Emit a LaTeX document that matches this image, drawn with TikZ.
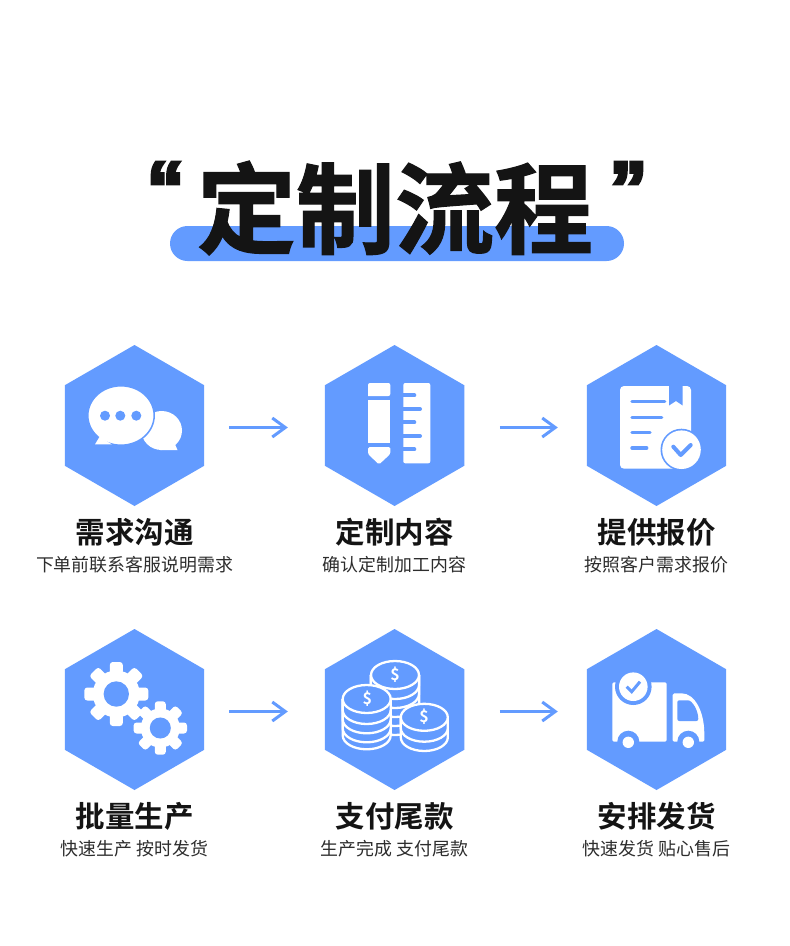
\documentclass[tikz,border=0pt]{standalone}
\usepackage{fontspec}
\setmainfont{Noto Sans CJK SC}
\newfontfamily\cjkheavy[FakeBold=1.2]{Noto Sans CJK SC Bold}
\newfontfamily\cjkbold{Noto Sans CJK SC Bold}
\newfontfamily\quotefont[FakeBold=5]{Liberation Sans Bold}
\usetikzlibrary{arrows.meta, positioning, shapes.geometric, shapes.misc}
\definecolor{hexblue}{RGB}{99,155,255}
\definecolor{inkdark}{RGB}{20,20,20}
\definecolor{inkgrey}{RGB}{45,45,45}
\newcommand{\gearicon}[5]{%
  \foreach \a in {0,45,...,315}
    \fill[white, rounded corners=3pt, shift={(#1,#2)}, rotate=\a] (#4-4,-#5) rectangle (#3,#5);
  \fill[white] (#1,#2) circle[radius=#4];
  \fill[hexblue] (#1,#2) circle[radius=#4*0.54];
}
\begin{document}
\begin{tikzpicture}[
    x=1pt, y=-1pt,
    hexa/.style={regular polygon, regular polygon sides=6, shape border rotate=30, fill=hexblue, minimum size=161pt, inner sep=0pt, outer sep=0pt},
    step title/.style={font=\cjkbold\fontsize{29.5}{30}\selectfont, text=inkdark, inner sep=0pt, text height=24pt, text depth=6pt},
    step note/.style={font=\fontsize{17.9}{18}\selectfont, text=inkgrey, inner sep=0pt, text height=13pt, text depth=3pt},
    arrow/.style={-{Straight Barb[length=13pt, width=19pt, line width=3pt]}, line width=3pt, hexblue, shorten <=25pt, shorten >=37pt},
    arrow wide/.style={arrow, shorten <=35.7pt, shorten >=29pt},
    quotemark/.style={font=\quotefont\fontsize{74}{74}\selectfont, text=inkdark, inner sep=0pt},
    coinline/.style={draw=white, line width=2.3pt},
    dollar/.style={font=\cjkbold\fontsize{16}{16}\selectfont, text=white, inner sep=0pt},
    blueline/.style={hexblue, line width=3.4pt, line cap=round}
]
\useasboundingbox (0,0) rectangle (790,946);
\fill[white] (0,0) rectangle (790,946);

\node[rounded rectangle, fill=hexblue, minimum width=454pt, minimum height=35pt, inner sep=0pt] (pill) at (397,243.5) {};
\node[font=\cjkheavy\fontsize{99}{99}\selectfont, text=inkdark, inner sep=0pt] (heading) at (395,208) {定制流程};
\node[quotemark] (quoteopen) at (165.5,188) {“};
\node[quotemark] (quoteclose) at (628.5,188) {”};

\node[hexa] (talk) at (134.5,425.5) {};
\node[hexa, right=120.6pt of talk] (content) {};
\node[hexa, right=122.5pt of content] (quote) {};
\node[hexa, below=123pt of talk] (batch) {};
\node[hexa, right=120.6pt of batch] (payment) {};
\node[hexa, right=122.5pt of payment] (delivery) {};

\node[step title, below=13pt of talk] (talktitle) {需求沟通};
\node[step note, below=9pt of talktitle] (talknote) {下单前联系客服说明需求};
\node[step title, below=13pt of content] (contenttitle) {定制内容};
\node[step note, below=9pt of contenttitle] (contentnote) {确认定制加工内容};
\node[step title, below=13pt of quote] (quotetitle) {提供报价};
\node[step note, below=9pt of quotetitle] (quotenote) {按照客户需求报价};
\node[step title, below=13pt of batch] (batchtitle) {批量生产};
\node[step note, below=9pt of batchtitle] (batchnote) {快速生产 按时发货};
\node[step title, below=13pt of payment] (paymenttitle) {支付尾款};
\node[step note, below=9pt of paymenttitle] (paymentnote) {生产完成 支付尾款};
\node[step title, below=13pt of delivery] (deliverytitle) {安排发货};
\node[step note, below=9pt of deliverytitle] (deliverynote) {快速发货 贴心售后};

\draw[arrow] ([yshift=-2pt]talk.east) -- ([yshift=-2pt]content.west);
\draw[arrow wide] ([yshift=-2pt]content.east) -- ([yshift=-2pt]quote.west);
\draw[arrow] ([yshift=-2pt]batch.east) -- ([yshift=-2pt]payment.west);
\draw[arrow wide] ([yshift=-2pt]payment.east) -- ([yshift=-2pt]delivery.west);

% chat bubbles
\fill[white] (161.7,430.5) ellipse[x radius=20.3, y radius=19.5];
\fill[white] (168,445) -- (174,442) -- (177.5,450) -- (160,450) -- cycle;
\fill[white, draw=hexblue, line width=1.5pt] (121,415.5) ellipse[x radius=33.2, y radius=29.7];
\fill[white] (100,436) -- (108,442) -- (112,444.4) -- (95,444.4) -- cycle;
\foreach \x in {105,120.3,136.3}
  \fill[hexblue] (\x,415.7) circle[radius=5];

% pencil and ruler
\fill[white, rounded corners=2pt] (368,396) -- (368,383) -- (390.3,383) -- (390.3,396) [sharp corners] -- cycle;
\fill[white] (368,400) rectangle (390.3,443);
\fill[white, rounded corners=1.5pt] (368,447) -- (390.3,447) -- (390.3,454) -- (379,464.5) -- (368,454) -- cycle;
\fill[white, rounded corners=2pt] (403.3,383) rectangle (430.3,463.3);
\foreach \y/\e in {395.3/414.3, 409/420, 422.3/414.3, 436/420, 449.3/414.3}
  \draw[hexblue, line width=4pt, line cap=round] (402,\y) -- (\e,\y);

% document with check
\fill[white, rounded corners=4pt] (620,386) rectangle (691,468.7);
\fill[hexblue] (669,385) -- (682.7,385) -- (682.7,405.5) -- (676,401) -- (669,405.5) -- cycle;
\foreach \y/\e in {401.7/664.7, 417.3/661.7, 432.7/650, 448/646.7}
  \draw[blueline] (632,\y) -- (\e,\y);
\fill[hexblue] (681.5,449.7) circle[radius=21];
\fill[white] (681.5,449.7) circle[radius=19.3];
\draw[blueline, line width=4pt, line join=round] (673.3,446.7) -- (680.7,455) -- (690.7,445);

% gears
\gearicon{116.3}{694}{32}{23.5}{6.5}
\gearicon{160.3}{728}{26.7}{19.5}{5.5}

% coins
\foreach \y in {721,712,703,694,685}
  \draw[coinline, fill=hexblue] (371,675) -- (371,\y) arc[start angle=180, end angle=0, x radius=24, y radius=14] -- (419,675);
\draw[coinline, fill=hexblue] (395,675) ellipse[x radius=24, y radius=14];
\foreach \y in {735.3,728.3,719.3,710}
  \draw[coinline, fill=hexblue] (342.7,699) -- (342.7,\y) arc[start angle=180, end angle=0, x radius=24, y radius=14] -- (390.7,699);
\draw[coinline, fill=hexblue] (366.7,699) ellipse[x radius=24, y radius=14];
\foreach \y in {737.5,728.2}
  \draw[coinline, fill=hexblue] (400.8,717.3) -- (400.8,\y) arc[start angle=180, end angle=0, x radius=23.5, y radius=13.5] -- (447.8,717.3);
\draw[coinline, fill=hexblue] (424.3,717.3) ellipse[x radius=23.5, y radius=13.5];
\node[dollar] (dollartop) at (395,675) {\$};
\node[dollar] (dollarleft) at (367.3,699) {\$};
\node[dollar] (dollarright) at (424,716.5) {\$};

% truck
\fill[white, rounded corners=1.5pt] (612.3,682.3) rectangle (666.7,741.7);
\fill[white, rounded corners=1.5pt] (672.7,741.7) -- (672.7,693.3) -- (680,693.3) .. controls (695,693.3) and (704.3,712) .. (704.3,735) -- (704.3,741.7) -- cycle;
\fill[hexblue, rounded corners=2pt] (677.3,721) -- (677.3,700.3) -- (686,700.3) .. controls (692,700.3) and (698.3,710) .. (698.3,721) -- cycle;
\foreach \x in {628.3,688.3}
  \fill[hexblue] (\x,741.7) circle[radius=11];
\fill[hexblue] (610,741.9) rectangle (710,754);
\foreach \x in {628.3,688.3}
  \fill[white] (\x,742.3) circle[radius=5.7];
\fill[hexblue] (633.3,686.7) circle[radius=18.3];
\fill[white] (633.3,686.7) circle[radius=14.3];
\draw[blueline, line width=3pt, line cap=butt] (626.6,686.7) -- (631.7,691.7) -- (640,681.7);
\end{tikzpicture}
\end{document}
